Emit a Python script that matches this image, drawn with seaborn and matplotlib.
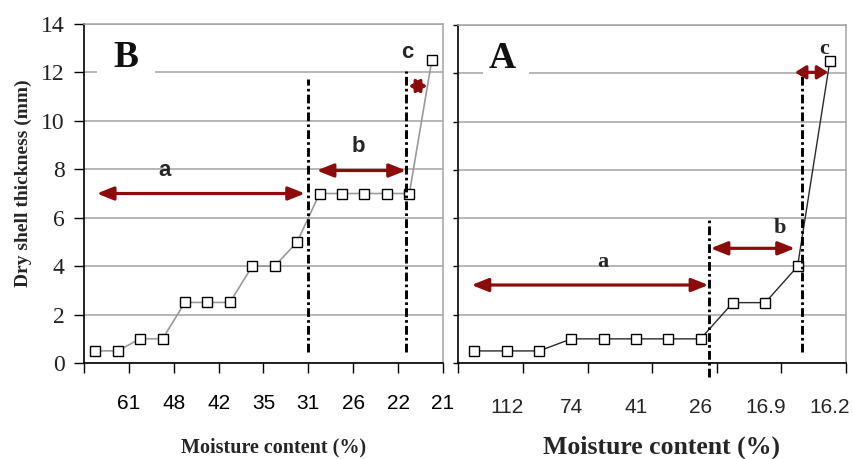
import numpy as np
import pandas as pd
import matplotlib
matplotlib.use("Agg")
import matplotlib.pyplot as plt
from matplotlib.patches import Rectangle
import seaborn as sns

# ---------------- data ----------------
B_tick_labels = ["61", "48", "42", "35", "31", "26", "22", "21"]
B_thickness = [0.5, 0.5, 1, 1, 2.5, 2.5, 2.5, 4, 4, 5, 7, 7, 7, 7, 7, 12.5]

A_tick_labels = ["112", "74", "41", "26", "16.9", "16.2"]
A_thickness = [0.5, 0.5, 0.5, 1, 1, 1, 1, 1, 2.5, 2.5, 4, 12.5]

y_ticks = [0, 2, 4, 6, 8, 10, 12, 14]

# stage annotations (category-index coordinates)
B_stage_lines = [(9.5, 0.45, 11.73), (13.85, 0.47, 12.07)]
B_arrows = [(0.07, 9.35, 7.0), (9.87, 13.85, 7.95), (13.98, 14.79, 11.44)]
B_stage_text = [("a", 3.1, 7.95), ("b", 11.72, 8.93), ("c", 13.9, 12.82)]
B_panel = ("B", 1.37, 12.6)
B_panel_gap = (0.08, 2.66)

A_stage_lines = [(7.27, -0.57, 5.92), (10.13, 0.47, 12.0)]
A_arrows = [(-0.09, 7.24, 3.23), (7.31, 9.92, 4.75), (9.92, 10.95, 12.04)]
A_stage_text = [("a", 3.96, 4.2), ("b", 9.46, 5.6), ("c", 10.82, 13.0)]
A_panel = ("A", 0.87, 12.6)
A_panel_gap = (0.26, 1.69)

sns.set_style("white")
plt.rcParams["font.family"] = ["Liberation Serif", "DejaVu Serif"]

SERIF = "Liberation Serif"
SANS = "Liberation Sans"
ARROW_C = "#8c0b0b"

W, H = 854, 459
fig = plt.figure(figsize=(W / 100, H / 100), dpi=100)
axB = fig.add_axes([84 / W, 96 / H, 359 / W, 339 / H])
axA = fig.add_axes([458.3 / W, 96 / H, 387.7 / W, 338 / H])

dfB = pd.DataFrame({"idx": np.arange(len(B_thickness)), "t": B_thickness})
dfA = pd.DataFrame({"idx": np.arange(len(A_thickness)), "t": A_thickness})

sns.lineplot(data=dfB, x="idx", y="t", ax=axB, color="#9a9a9a", lw=1.2,
             marker="s", markersize=6.5, markerfacecolor="white",
             markeredgecolor="black", markeredgewidth=1.0, zorder=3)
sns.lineplot(data=dfA, x="idx", y="t", ax=axA, color="#2a2a2a", lw=1.0,
             marker="s", markersize=6.5, markerfacecolor="white",
             markeredgecolor="black", markeredgewidth=1.0, zorder=3)


def style_axes(ax, n):
    ax.set_xlim(-0.5, n - 0.5)
    ax.set_ylim(0, 14)
    ax.set_yticks(y_ticks)
    ax.yaxis.grid(True, color="#a3a3a3", lw=1.1)
    ax.xaxis.grid(False)
    ax.set_axisbelow(True)
    for s in ("left", "bottom"):
        ax.spines[s].set_color("black")
        ax.spines[s].set_linewidth(1.2)
    for s in ("top", "right"):
        ax.spines[s].set_color("#a3a3a3")
        ax.spines[s].set_linewidth(1.1)
    ax.set_ylabel("")
    ax.set_xlabel("")


style_axes(axB, len(B_thickness))
style_axes(axA, len(A_thickness))

# B axis ticks: labels at the tick boundaries
axB.set_xticks(np.arange(-0.5, len(B_thickness), 2))
axB.set_xticklabels([""] + B_tick_labels, fontfamily=SANS, fontsize=15)
axB.tick_params(axis="x", direction="out", length=7, width=1.0, pad=15,
                colors="black", bottom=True)
axB.set_yticklabels([str(v) for v in y_ticks], fontfamily=SERIF, fontsize=17)
axB.tick_params(axis="y", direction="out", length=7, width=1.0, pad=7,
                colors="black", left=True, labelcolor="#222222")

# A axis: labels centered on categories, ticks at boundaries
axA.set_xticks(np.arange(1, len(A_thickness), 2))
axA.set_xticklabels(A_tick_labels, fontfamily=SANS, fontsize=15)
axA.set_xticks(np.arange(-0.5, len(A_thickness), 2), minor=True)
axA.tick_params(axis="x", which="major", length=0, pad=25)
axA.tick_params(axis="x", which="minor", direction="out", length=7,
                width=1.0, bottom=True, colors="black")
axA.set_yticklabels([])
axA.tick_params(axis="y", direction="out", length=3.5, width=1.0, left=True,
                colors="black")

axB.set_ylabel("Dry shell thickness (mm)", fontfamily=SERIF,
               fontweight="bold", fontsize=14, va="center")
axB.yaxis.set_label_coords(-0.17, 0.531)
axB.set_xlabel("Moisture content (%)", fontfamily=SERIF, fontweight="bold",
               fontsize=14.5, va="center")
axB.xaxis.set_label_coords(0.527, -0.248)
axA.set_xlabel("Moisture content (%)", fontfamily=SERIF, fontweight="bold",
               fontsize=18.5, va="center")
axA.xaxis.set_label_coords(0.525, -0.248)


def annotate(ax, lines, arrows, texts, panel, gap, text_family):
    for x, y0, y1 in lines:
        ax.plot([x, x], [y0, y1], color="black", lw=2.1,
                linestyle=(0, (3.0, 1.1, 0.9, 1.1)), zorder=4, clip_on=False)
    for x0, x1, y in arrows:
        hl = 0.5 if abs(x1 - x0) > 1.2 else 0.32
        ax.annotate("", xy=(x1, y), xytext=(x0, y),
                    arrowprops=dict(arrowstyle=f"<|-|>,head_length={hl},head_width=0.2",
                                    color=ARROW_C, lw=2.3, shrinkA=0, shrinkB=0,
                                    mutation_scale=20),
                    zorder=5)
    for s, x, y in texts:
        ax.text(x, y, s, ha="center", va="center", fontsize=16,
                fontweight="bold", fontfamily=text_family, zorder=6)
    # white gap in the gridline behind the panel letter
    ax.add_patch(Rectangle((gap[0], 11.5), gap[1] - gap[0], 1.0,
                           facecolor="white", edgecolor="none", zorder=1.5))
    s, x, y = panel
    ax.text(x, y, s, ha="center", va="center", fontsize=27,
            fontweight="bold", fontfamily=SERIF, color="#111111", zorder=6)


annotate(axB, B_stage_lines, B_arrows, B_stage_text, B_panel, B_panel_gap, SANS)
annotate(axA, A_stage_lines, A_arrows, A_stage_text, A_panel, A_panel_gap, SERIF)

fig.savefig("out.png", dpi=100)
